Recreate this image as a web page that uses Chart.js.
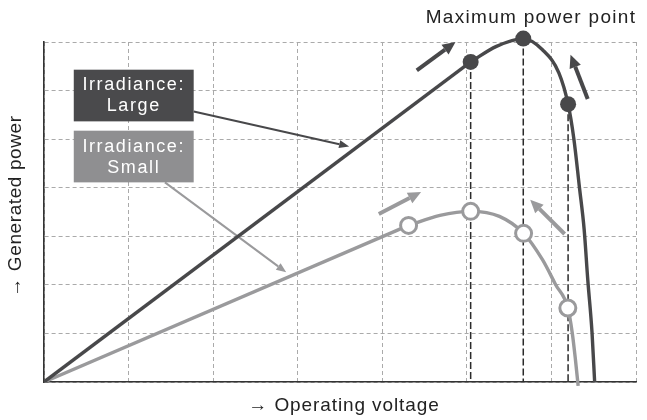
<!DOCTYPE html>
<html>
<head>
<meta charset="utf-8">
<script src="https://cdn.jsdelivr.net/npm/chart.js@4"></script>
<style>
  html, body { margin: 0; padding: 0; background: #fff; }
  #wrap { width: 647px; height: 420px; position: relative; }
</style>
</head>
<body>
<div id="wrap"><canvas id="myChart"></canvas></div>
<script>
// P-V curve, irradiance large (straight part is the first two points)
const largeX = [0, 5.045, 5.35, 5.667, 5.894, 6.089, 6.197, 6.265, 6.331, 6.387, 6.43, 6.48, 6.511];
const largeY = [0, 6.59, 6.91, 7.07, 6.84, 6.36, 5.72, 5.01, 4.01, 3.14, 2.10, 1.02, 0];
// P-V curve, irradiance small
const smallX = [0, 4.311, 4.682, 5.045, 5.385, 5.671, 5.894, 6.05, 6.194, 6.246, 6.284, 6.316];
const smallY = [0, 3.224, 3.43, 3.513, 3.41, 3.06, 2.518, 2.003, 1.524, 1.015, 0.459, -0.08];
// operating points
const largeMarkX = [5.045, 5.667, 6.197];
const largeMarkY = [6.59, 7.07, 5.72];
const smallMarkX = [4.311, 5.045, 5.671, 6.194];
const smallMarkY = [3.224, 3.513, 3.06, 1.524];
// labels
const boxLabels = [["Irradiance:", "Large"], ["Irradiance:", "Small"]];
const xTitle = "→ Operating voltage";
const yTitle = "→ Generated power";
const topTitle = "Maximum power point";

const DARK = '#48484a';
const LIGHT = '#9a9a9c';
const FONT = '"Liberation Sans", Arial, sans-serif';

const pts = (xs, ys) => xs.map((x, i) => ({x: x, y: ys[i]}));

// dashed drop lines from the large-curve operating points
const dropSets = largeMarkX.map((x, i) => ({
    type: 'line',
    data: [{x: x, y: largeMarkY[i]}, {x: x, y: 0}],
    borderColor: '#2a2a2a',
    borderWidth: 1.5,
    borderDash: [7, 3],
    pointRadius: 0,
    clip: false,
    order: 5
}));

// annotations in data units
const boxes = [
    {x0: 0.352, y0: 6.43, x1: 1.77, y1: 5.366, fill: '#4a4a4c'},
    {x0: 0.352, y0: 5.174, x1: 1.77, y1: 4.11, fill: '#8f8f91'}
];
const pointers = [
    {x0: 1.77, y0: 5.571, x1: 3.608, y1: 4.851, color: DARK},
    {x0: 1.43, y0: 4.11, x1: 2.864, y1: 2.257, color: LIGHT}
];
const moveArrows = [
    {x0: 4.408, y0: 6.416, x1: 4.866, y1: 7.0, color: DARK},
    {x0: 6.429, y0: 5.827, x1: 6.226, y1: 6.739, color: DARK},
    {x0: 3.959, y0: 3.459, x1: 4.459, y1: 3.912, color: LIGHT},
    {x0: 6.156, y0: 3.047, x1: 5.749, y1: 3.753, color: LIGHT}
];

function arrow(ctx, x1, y1, x2, y2, w, hl, hw, color) {
    const a = Math.atan2(y2 - y1, x2 - x1);
    const bx = x2 - hl * Math.cos(a), by = y2 - hl * Math.sin(a);
    ctx.save();
    ctx.strokeStyle = color;
    ctx.fillStyle = color;
    ctx.lineWidth = w;
    ctx.beginPath();
    ctx.moveTo(x1, y1);
    ctx.lineTo(bx, by);
    ctx.stroke();
    ctx.beginPath();
    ctx.moveTo(x2, y2);
    ctx.lineTo(bx + hw / 2 * Math.sin(a), by - hw / 2 * Math.cos(a));
    ctx.lineTo(bx - hw / 2 * Math.sin(a), by + hw / 2 * Math.cos(a));
    ctx.closePath();
    ctx.fill();
    ctx.restore();
}

const annotations = {
    id: 'annotations',
    beforeDatasetsDraw(chart) {
        const ctx = chart.ctx;
        const sx = chart.scales.x, sy = chart.scales.y;
        const px = v => sx.getPixelForValue(v), py = v => sy.getPixelForValue(v);
        pointers.forEach(p => arrow(ctx, px(p.x0), py(p.y0), px(p.x1), py(p.y1), 2, 10, 8, p.color));
        moveArrows.forEach(p => arrow(ctx, px(p.x0), py(p.y0), px(p.x1), py(p.y1), 4, 13, 12, p.color));
        boxes.forEach((b, i) => {
            const left = px(b.x0), top = py(b.y0), right = px(b.x1), bottom = py(b.y1);
            ctx.save();
            ctx.fillStyle = b.fill;
            ctx.fillRect(left, top, right - left, bottom - top);
            ctx.fillStyle = '#ffffff';
            ctx.font = '18px ' + FONT;
            ctx.letterSpacing = '1.6px';
            ctx.textAlign = 'center';
            ctx.textBaseline = 'middle';
            const cx = (left + right) / 2, cy = (top + bottom) / 2;
            ctx.fillText(boxLabels[i][0], cx, cy - 10);
            ctx.fillText(boxLabels[i][1], cx, cy + 11);
            ctx.restore();
        });
    },
    afterDraw(chart) {
        const ctx = chart.ctx;
        ctx.save();
        ctx.fillStyle = '#222';
        ctx.font = '19px ' + FONT;
        ctx.textAlign = 'center';
        ctx.textBaseline = 'middle';
        ctx.letterSpacing = '1.3px';
        ctx.fillText(topTitle, 531, 18);
        ctx.letterSpacing = '0.9px';
        ctx.fillText(xTitle, 344, 406);
        ctx.translate(16, 206);
        ctx.rotate(-Math.PI / 2);
        ctx.letterSpacing = '0.6px';
        ctx.fillText(yTitle, 0, 0);
        ctx.restore();
    }
};

const data = {
    datasets: [
        {
            type: 'scatter', data: pts(largeMarkX, largeMarkY),
            pointRadius: 8, pointBackgroundColor: DARK, pointBorderWidth: 0,
            clip: false, order: 0
        },
        {
            type: 'scatter', data: pts(smallMarkX, smallMarkY),
            pointRadius: 8, pointBackgroundColor: '#fff', pointBorderColor: LIGHT, pointBorderWidth: 3,
            clip: false, order: 1
        },
        {
            type: 'line', data: pts(largeX.slice(0, 2), largeY.slice(0, 2)),
            borderColor: DARK, borderWidth: 3.4, pointRadius: 0, tension: 0, order: 2
        },
        {
            type: 'line', data: pts(largeX.slice(1), largeY.slice(1)),
            borderColor: DARK, borderWidth: 3.4, pointRadius: 0, cubicInterpolationMode: 'monotone',
            clip: false, order: 2
        },
        {
            type: 'line', data: pts(smallX.slice(0, 2), smallY.slice(0, 2)),
            borderColor: LIGHT, borderWidth: 3.4, pointRadius: 0, tension: 0, order: 3
        },
        {
            type: 'line', data: pts(smallX.slice(1), smallY.slice(1)),
            borderColor: LIGHT, borderWidth: 3.4, pointRadius: 0, cubicInterpolationMode: 'monotone',
            clip: false, order: 3
        },
        ...dropSets
    ]
};

const axisOpts = {
    type: 'linear', min: 0, max: 7,
    ticks: { display: false, stepSize: 1 },
    grid: { color: '#aaaaaa', lineWidth: 1, drawTicks: false },
    border: { display: true, color: '#333333', width: 1.6, dash: [4, 3] }
};

const config = {
    type: 'line',
    data: data,
    options: {
        responsive: true,
        maintainAspectRatio: false,
        animation: false,
        layout: { padding: { left: 44, right: 6, top: 42, bottom: 38 } },
        plugins: { legend: { display: false }, tooltip: { enabled: false } },
        scales: {
            x: Object.assign({ position: 'bottom' }, axisOpts),
            y: Object.assign({ position: 'left' }, axisOpts)
        }
    },
    plugins: [annotations]
};

new Chart(document.getElementById('myChart'), config);
</script>
</body>
</html>
